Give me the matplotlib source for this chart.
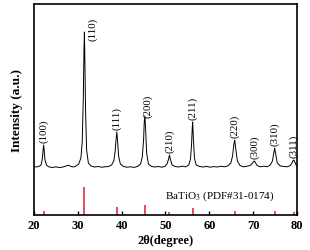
import numpy as np
import matplotlib.pyplot as plt

plt.rcParams['font.family'] = ['Liberation Serif', 'DejaVu Serif']
plt.rcParams['mathtext.fontset'] = 'stix'

# ---- measured XRD pattern (2theta, intensity a.u., baseline ~0) ----
two_theta = [20.0, 20.6, 21.2, 21.6, 21.9, 22.05, 22.2, 22.35, 22.5, 22.9, 23.5, 24.2, 25.0,
             25.8, 26.6, 27.3, 27.9, 28.4, 29.0, 29.6, 30.2, 30.7, 31.0, 31.25, 31.4, 31.5,
             31.6, 31.75, 32.0, 32.4, 33.0, 33.8, 34.6, 35.4, 36.2, 37.0, 37.7, 38.2, 38.5,
             38.75, 38.9, 39.05, 39.3, 39.7, 40.4, 41.2, 42.0, 42.8, 43.6, 44.3, 44.7, 45.0,
             45.15, 45.3, 45.45, 45.7, 46.1, 46.8, 47.6, 48.4, 49.2, 49.9, 50.4, 50.7, 50.9,
             51.1, 51.5, 52.2, 53.0, 53.8, 54.6, 55.3, 55.7, 55.95, 56.1, 56.2, 56.35, 56.6,
             57.0, 57.8, 58.6, 59.4, 60.2, 61.0, 61.8, 62.6, 63.4, 64.2, 64.9, 65.3, 65.6,
             65.8, 66.0, 66.4, 67.0, 67.8, 68.6, 69.3, 69.8, 70.1, 70.3, 70.5, 70.9, 71.6,
             72.4, 73.2, 73.9, 74.4, 74.7, 74.9, 75.1, 75.5, 76.2, 77.0, 77.8, 78.5, 78.9,
             79.1, 79.3, 79.5, 79.8, 80.0]
intensity = [1.5, 1.0, 1.8, 3.0, 9.0, 17.0, 23.0, 16.0, 8.0, 2.5, 1.0, 0.5, 1.2,
             0.4, 1.0, 2.0, 2.8, 1.6, 1.0, 2.0, 4.0, 10.0, 26.0, 70.0, 118.0, 136.0,
             110.0, 60.0, 18.0, 5.0, 2.0, 1.0, 1.5, 0.8, 1.2, 1.5, 3.0, 7.0, 16.0,
             30.0, 36.0, 28.0, 12.0, 4.0, 1.5, 0.8, 1.2, 0.6, 1.5, 4.0, 11.0, 28.0,
             46.0, 52.0, 40.0, 15.0, 4.0, 1.5, 1.0, 1.5, 0.8, 1.8, 4.5, 9.0, 13.0,
             9.0, 3.0, 1.5, 1.0, 1.8, 1.2, 3.0, 9.0, 24.0, 40.0, 46.0, 30.0, 10.0,
             3.0, 1.5, 1.0, 1.6, 0.8, 1.4, 1.0, 1.8, 1.2, 2.0, 5.0, 12.0, 24.0,
             28.0, 20.0, 7.0, 2.5, 1.2, 1.8, 2.5, 4.5, 6.5, 7.0, 5.5, 2.5, 1.2,
             1.8, 1.2, 3.0, 7.0, 15.0, 20.0, 15.0, 5.0, 2.0, 1.5, 1.2, 2.5, 5.5,
             7.5, 8.0, 6.0, 3.0, 2.0]

# ---- peak labels ----
hkl = ['(100)', '(110)', '(111)', '(200)', '(210)', '(211)', '(220)', '(300)', '(310)', '(311)']
peak_pos = [22.2, 31.5, 38.9, 45.3, 50.9, 56.2, 65.8, 70.3, 74.9, 79.3]
peak_top = [23, 136, 36, 52, 13, 46, 28, 7, 20, 8]

# ---- BaTiO3 PDF#31-0174 reference sticks ----
pdf_pos = [22.2, 31.5, 38.9, 45.3, 50.9, 56.2, 65.8, 70.3, 74.9, 79.3]
pdf_int = [14, 100, 29, 36, 11, 25, 14, 2, 14, 11]

offset = 47.0
stick_scale = 0.28

fig = plt.figure(figsize=(3.10, 2.51), dpi=100)
ax = fig.add_axes([34 / 310, 1 - 216 / 251, 263 / 310, 211 / 251])

ax.plot(two_theta, np.array(intensity) + offset, color='black', lw=0.7)
ax.vlines(pdf_pos, 0, np.array(pdf_int) * stick_scale, color='#d8202c', lw=1.1)

for lab, x, h in zip(hkl, peak_pos, peak_top):
    dx, dy = 0.0, 3.0
    if lab == '(110)':
        dx, dy = 2.0, -8.0
    elif lab == '(200)':
        dx, dy = 0.6, -1.0
    ax.text(x + dx, h + offset + dy, lab, rotation=90, ha='center', va='bottom',
            fontsize=7.8)

ax.text(0.915, 0.095, 'BaTiO$_3$ (PDF#31-0174)', transform=ax.transAxes,
        ha='right', va='center', fontsize=8)

ax.set_xlim(20, 80)
ax.set_ylim(0, 211)
ax.set_xticks(range(20, 81, 10))
ax.set_yticks([])
ax.tick_params(axis='x', direction='in', length=3, width=1, pad=3, labelsize=9)
for t in ax.get_xticklabels():
    t.set_fontweight('bold')
for s in ax.spines.values():
    s.set_linewidth(1.2)

ax.set_xlabel('2θ(degree)', fontsize=9, fontweight='bold', labelpad=2)
ax.set_ylabel('Intensity (a.u.)', fontsize=9.5, fontweight='bold', labelpad=8)

fig.savefig('out.png', dpi=100)
